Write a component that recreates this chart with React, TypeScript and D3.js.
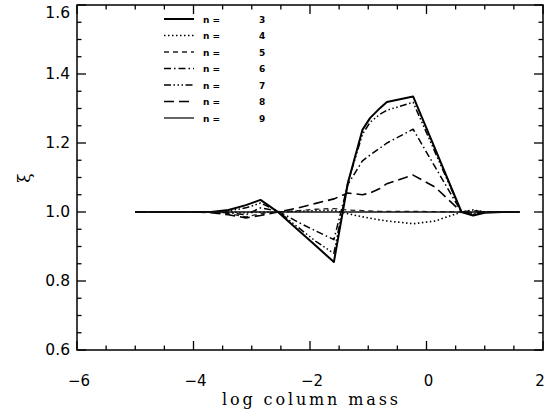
import React from "react";
import * as d3 from "d3";

const logMass = [-5.0, -4.5, -4.0, -3.7, -3.4, -3.1, -2.85, -2.55, -2.2, -1.9, -1.59, -1.35, -1.1, -0.97, -0.8, -0.68, -0.23, 0.15, 0.6, 0.8, 1.0, 1.3, 1.6];

const xi3 = [1.0, 1.0, 1.0, 1.0, 1.006, 1.02, 1.035, 1.0, 0.947, 0.902, 0.855, 1.084, 1.238, 1.272, 1.301, 1.319, 1.335, 1.182, 1.0, 0.99, 0.998, 1.0, 1.0];
const xi4 = [1.0, 1.0, 1.0, 1.0, 1.0, 0.998, 1.0, 1.0, 1.002, 1.004, 1.005, 0.995, 0.986, 0.982, 0.977, 0.974, 0.966, 0.974, 1.0, 1.006, 1.0, 1.0, 1.0];
const xi5 = [1.0, 1.0, 1.0, 0.999, 0.995, 0.986, 0.995, 1.0, 1.004, 1.008, 1.01, 1.006, 1.004, 1.003, 1.002, 1.002, 1.002, 1.001, 1.0, 0.998, 1.0, 1.0, 1.0];
const xi6 = [1.0, 1.0, 1.0, 1.0, 0.998, 0.992, 1.012, 1.003, 0.97, 0.945, 0.92, 1.08, 1.148, 1.165, 1.185, 1.2, 1.24, 1.13, 1.0, 0.993, 0.999, 1.0, 1.0];
const xi7 = [1.0, 1.0, 1.0, 1.0, 1.003, 1.012, 1.026, 1.002, 0.955, 0.915, 0.88, 1.085, 1.225, 1.26, 1.283, 1.295, 1.318, 1.172, 1.0, 0.995, 0.999, 1.0, 1.0];
const xi8 = [1.0, 1.0, 1.0, 0.998, 0.992, 0.983, 0.99, 1.0, 1.012, 1.025, 1.038, 1.055, 1.05, 1.055, 1.068, 1.082, 1.107, 1.072, 1.0, 1.004, 1.0, 1.0, 1.0];
const xi9 = [1.0, 1.0, 1.0, 1.0, 1.0, 1.0, 1.0, 1.0, 1.0, 1.0, 1.0, 1.0, 1.0, 1.0, 1.0, 1.0, 1.0, 1.0, 1.0, 1.0, 1.0, 1.0, 1.0];

const seriesNames = ["3", "4", "5", "6", "7", "8", "9"];
const seriesValues = [xi3, xi4, xi5, xi6, xi7, xi8, xi9];

const xTickValues = [-6, -4, -2, 0, 2];
const xTickLabels = ["\u22126", "\u22124", "\u22122", "0", "2"];
const yTickValues = [0.6, 0.8, 1.0, 1.2, 1.4, 1.6];
const yTickLabels = ["0.6", "0.8", "1.0", "1.2", "1.4", "1.6"];

const styles = [
  { dash: "", width: 2.0, color: "#000" },
  { dash: "1.5,2.5", width: 1.6, color: "#000" },
  { dash: "5,4", width: 1.3, color: "#222" },
  { dash: "7,3,1.5,3", width: 1.5, color: "#000" },
  { dash: "7,2.5,1.5,2.5,1.5,2.5,1.5,2.5", width: 1.5, color: "#000" },
  { dash: "10,5", width: 1.6, color: "#000" },
  { dash: "", width: 1.3, color: "#111" },
];

const W = 548, H = 409;
const L = 77, R = 543, T = 5, B = 350;

export default function App() {
  const x = d3.scaleLinear().domain([-6, 2]).range([L, R]);
  const y = d3.scaleLinear().domain([0.6, 1.6]).range([B, T]);
  const line = d3.line<[number, number]>().x(d => x(d[0])).y(d => y(d[1]));

  const xMinor = d3.range(-6, 2.001, 0.5);
  const yMinor = d3.range(0.6, 1.6001, 0.05);
  const major = 9, minor = 4.5;

  const tickFont = "'DejaVu Sans', sans-serif";

  return (
    <svg width={W} height={H} style={{ position: "fixed", left: 0, top: 0, background: "#fff" }}>
      <rect x={0} y={0} width={W} height={H} fill="#fff" />
      {seriesValues.map((vals, i) => (
        <path key={i}
          d={line(logMass.map((m, j) => [m, vals[j]]) as [number, number][]) || ""}
          fill="none" stroke={styles[i].color} strokeWidth={styles[i].width}
          strokeDasharray={styles[i].dash || undefined} strokeLinejoin="round" />
      ))}
      <rect x={L} y={T} width={R - L} height={B - T} fill="none" stroke="#000" strokeWidth={1.5} />
      {xMinor.map((v, i) => {
        const isMajor = Math.abs(v / 2 - Math.round(v / 2)) < 1e-6;
        const len = isMajor ? major : minor;
        return (
          <g key={"xt" + i}>
            <line x1={x(v)} x2={x(v)} y1={B} y2={B - len} stroke="#000" strokeWidth={1.3} />
            <line x1={x(v)} x2={x(v)} y1={T} y2={T + len} stroke="#000" strokeWidth={1.3} />
          </g>
        );
      })}
      {yMinor.map((v, i) => {
        const isMajor = Math.abs(v / 0.2 - Math.round(v / 0.2)) < 1e-6;
        const len = isMajor ? major : minor;
        return (
          <g key={"yt" + i}>
            <line x1={L} x2={L + len} y1={y(v)} y2={y(v)} stroke="#000" strokeWidth={1.3} />
            <line x1={R} x2={R - len} y1={y(v)} y2={y(v)} stroke="#000" strokeWidth={1.3} />
          </g>
        );
      })}
      {xTickValues.map((v, i) => (
        <text key={"xl" + i} x={i === xTickValues.length - 1 ? x(v) - 3 : x(v) + 2} y={386} textAnchor="middle" fontFamily={tickFont} fontSize={15} fill="#000">{xTickLabels[i]}</text>
      ))}
      {yTickValues.map((v, i) => (
        <text key={"yl" + i} x={70} y={Math.max(y(v) + 5, 18)} textAnchor="end" fontFamily={tickFont} fontSize={15.5} fill="#000">{yTickLabels[i]}</text>
      ))}
      <text x={(L + R) / 2} y={405} textAnchor="middle" fontFamily="'DejaVu Serif', serif" fontSize={16} textLength={176} lengthAdjust="spacing" fill="#000">log column mass</text>
      <text x={0} y={0} transform="translate(30,178) rotate(-90)" textAnchor="middle" fontFamily="'DejaVu Serif', serif" fontSize={17} fill="#000">ξ</text>
      {seriesNames.map((n, i) => {
        const ly = 19 + i * 16.5;
        return (
          <g key={"lg" + i}>
            <line x1={164} x2={194} y1={ly} y2={ly} stroke={styles[i].color} strokeWidth={styles[i].width}
              strokeDasharray={styles[i].dash || undefined} />
            <text x={203} y={ly + 3.5} fontFamily={tickFont} fontSize={9} fontWeight="bold" fill="#000">n =</text>
            <text x={259} y={ly + 3.5} fontFamily={tickFont} fontSize={9} fontWeight="bold" fill="#000">{n}</text>
          </g>
        );
      })}
    </svg>
  );
}
